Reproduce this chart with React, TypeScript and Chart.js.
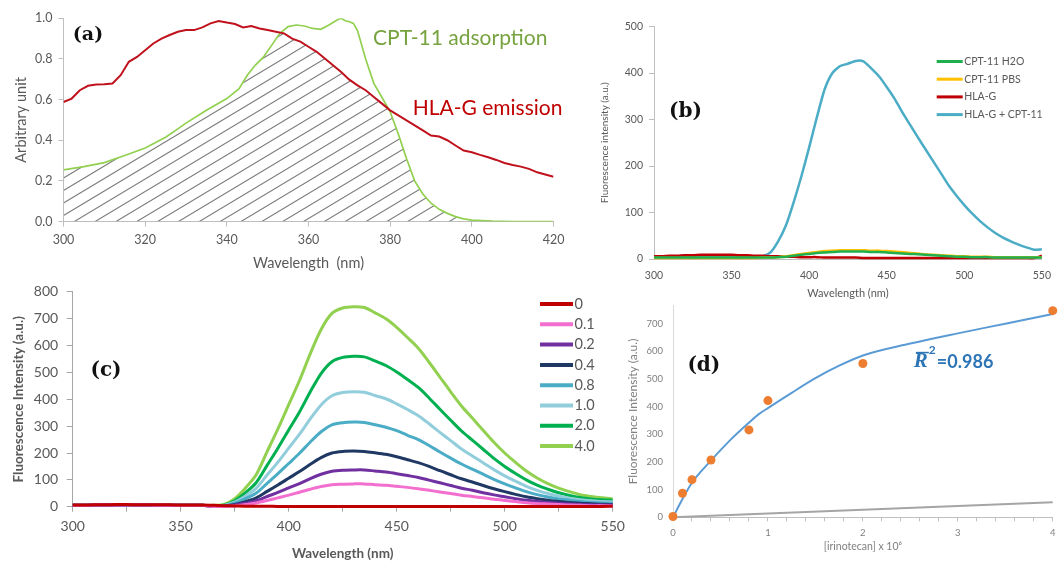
import React, { useEffect, useRef } from "react";
import { Chart, registerables } from "chart.js";
Chart.register(...registerables);

const FONT = "Lato, 'Open Sans', sans-serif";
const SERIF = "'DejaVu Serif', serif";

// ---------- Panel (a) ----------
const A_RED_WL = [300,302,304,306,308,310,312,314,316,318,320,322,324,326,328,330,332,334,336,338,340,342,344,346,348,350,352,354,356,358,360,362,364,366,368,370,372,374,376,378,380,382,384,386,388,390,392,394,396,398,400,402,404,406,408,410,412,414,416,418,420];
const A_RED = [0.588,0.605,0.646,0.668,0.674,0.676,0.679,0.72,0.786,0.81,0.843,0.876,0.9,0.918,0.934,0.942,0.942,0.955,0.975,0.987,0.979,0.972,0.955,0.962,0.95,0.942,0.934,0.926,0.9,0.885,0.86,0.835,0.802,0.769,0.736,0.698,0.67,0.646,0.613,0.58,0.547,0.522,0.498,0.473,0.448,0.423,0.418,0.4,0.374,0.349,0.341,0.328,0.316,0.303,0.288,0.278,0.27,0.259,0.242,0.231,0.22];
const A_GREEN_WL = [300,305,310,315,320,325,328,330,335,340,343,345,347,349,351,353,355,357,359,361,363,365,367,368,369,370,371,372,374,376,378,380,382,384,386,388,390,392,394,396,398,400,405,410,420];
const A_GREEN = [0.254,0.27,0.29,0.325,0.362,0.415,0.456,0.484,0.547,0.605,0.654,0.72,0.77,0.81,0.868,0.926,0.959,0.967,0.962,0.95,0.946,0.967,0.992,1.0,0.988,0.983,0.975,0.94,0.8,0.68,0.61,0.54,0.43,0.31,0.2,0.135,0.09,0.06,0.04,0.024,0.013,0.007,0.002,0,0];
const A_X_TICKS = { min: 300, max: 420, step: 20 };
const A_Y_TICKS = { min: 0, max: 1, step: 0.2 };

// ---------- Panels (b) and (c): shared wavelength axis ----------
const WL = [300,305,310,315,320,325,330,335,340,345,350,355,360,365,370,375,380,385,390,395,400,405,410,415,420,425,430,435,440,445,450,455,460,465,470,475,480,485,490,495,500,505,510,515,520,525,530,535,540,545,550];

// (b)
const B_LABELS = ["CPT-11 H2O", "CPT-11 PBS", "HLA-G", "HLA-G + CPT-11"];
const B_H2O = [3,3,3,3,3,3,3,3,3,3,3,3,3,3,3,3,4,5,7,9,11,13,14,15,16,16,16,16,15,15,14,13,12,11,10,9,8,7,6,5,5,4,4,4,3,3,3,3,3,3,3];
const B_PBS = [2,2,2,2,2,2,2,2,2,2,2,2,2,2,3,3,4,6,8,11,13,15,17,18,19,19,19,19,18,18,17,16,15,13,12,10,9,8,7,6,6,5,5,5,4,4,4,4,4,4,4];
const B_HLAG = [6,6,7,7,8,8,9,9,9,9,9,8,8,7,7,6,6,5,5,4,4,4,3,3,3,3,3,2,2,2,2,2,2,2,2,2,2,2,2,2,2,2,2,2,2,2,2,2,2,2,7];
const B_MIX = [5,5,6,6,7,7,7,7,7,7,7,6,6,6,6,14,38,72,122,178,240,305,365,400,415,420,426,425,410,393,370,345,316,289,262,236,210,184,158,136,116,98,82,68,56,46,38,31,25,20,21];

// (c)
const C_LABELS = ["0", "0.1", "0.2", "0.4", "0.8", "1.0", "2.0", "4.0"];
const C_BASE = [5,5,6,6,6,6,6,6,5,5,5,5,5];
const C_0 = [6,6,7,7,8,8,7,7,7,7,6,6,6,5,4,3,2,2,2,1,1,1,1,1,1,1,1,1,1,1,1,1,1,1,1,1,1,1,1,1,1,1,1,1,1,1,1,1,1,1,2];
const C_01 = [1,1,3,8,14,23,33,43,54,65,75,82,84,85,85,82,80,76,72,67,61,55,49,43,38,33,28,23,19,15,12,10,8,6,5,4,4,3];
const C_02 = [1,2,6,13,22,38,53,70,86,105,121,132,136,137,137,133,129,123,116,109,99,89,79,69,61,52,44,37,30,24,20,16,13,10,8,7,6,6];
const C_04 = [2,2,8,19,33,57,81,106,131,158,183,200,206,207,206,201,195,186,175,164,150,134,119,104,92,79,67,56,46,37,30,24,19,16,13,11,9,8];
const C_08 = [2,3,13,30,51,87,123,161,199,241,279,305,313,315,314,305,296,283,266,250,228,204,181,159,140,121,102,85,70,56,45,36,29,24,19,16,14,13];
const C_10 = [3,5,17,40,69,118,166,218,270,327,379,413,425,428,426,414,402,383,362,339,309,277,246,215,189,164,138,115,95,76,61,49,40,32,26,22,19,18];
const C_20 = [4,6,22,52,90,154,218,286,353,428,496,540,556,560,558,543,526,502,474,444,405,363,322,282,248,214,180,150,124,100,80,65,52,42,34,29,26,24];
const C_40 = [5,8,30,70,120,205,290,380,470,570,660,720,740,745,742,722,700,668,630,590,538,483,428,375,330,285,240,200,165,133,107,86,69,56,45,38,33,30];

// (d)
const D_CONC = [0, 0.1, 0.2, 0.4, 0.8, 1, 2, 4];
const D_INT = [3, 87, 136, 207, 316, 422, 556, 747];
const D_FIT_X = [0, 0.1, 0.2, 0.4, 0.6, 0.8, 0.9, 1, 1.25, 1.5, 1.75, 2, 2.5, 3, 3.5, 4];
const D_FIT_Y = [0, 66, 125, 205, 278, 342, 372, 395, 450, 503, 548, 585, 628, 665, 700, 735];
const D_BASE_X = [0, 4];
const D_BASE_Y = [0, 54];

// ---------- plugins ----------
function makeLegend(o: any) {
  return {
    id: "lineLegend",
    afterDraw(chart: any) {
      const ctx = chart.ctx;
      ctx.save();
      chart.data.datasets.forEach((ds: any, i: number) => {
        const y = o.y + i * o.dy;
        ctx.strokeStyle = ds.borderColor;
        ctx.lineWidth = o.lw;
        ctx.lineCap = "butt";
        ctx.beginPath();
        ctx.moveTo(o.x, y);
        ctx.lineTo(o.x + o.sw, y);
        ctx.stroke();
        ctx.fillStyle = o.color;
        ctx.font = o.font;
        ctx.textAlign = "left";
        ctx.textBaseline = "middle";
        ctx.fillText(ds.label, o.x + o.sw + o.gap, y);
      });
      ctx.restore();
    },
  };
}

function makeNotes(items: any[]) {
  return {
    id: "notes",
    afterDraw(chart: any) {
      const ctx = chart.ctx;
      const xs = chart.scales.x, ys = chart.scales.y;
      items.forEach((it) => {
        const px = xs.getPixelForValue(it.x);
        const py = ys.getPixelForValue(it.y);
        ctx.save();
        ctx.fillStyle = it.color;
        ctx.textBaseline = "middle";
        if (it.kind === "rbar") {
          ctx.font = `italic bold 21px 'Liberation Serif', serif`;
          ctx.textAlign = "left";
          ctx.fillText("R", px, py);
          const w = ctx.measureText("R").width;
          ctx.strokeStyle = it.color;
          ctx.lineWidth = 1.5;
          ctx.beginPath();
          ctx.moveTo(px + 2, py - 9);
          ctx.lineTo(px + w + 1, py - 9);
          ctx.stroke();
          ctx.font = `bold 12px ${FONT}`;
          ctx.fillText("2", px + w + 1, py - 11);
          ctx.font = `bold 18px ${FONT}`;
          ctx.fillText(it.text, px + w + 9, py + 1);
        } else {
          ctx.font = it.font;
          ctx.textAlign = it.align || "left";
          ctx.fillText(it.text, px, py);
        }
        ctx.restore();
      });
    },
  };
}

function makeHatch(o: any) {
  return {
    id: "hatch",
    beforeDatasetsDraw(chart: any) {
      const { ctx, chartArea: ca } = chart;
      const bottom = chart.scales.y.getPixelForValue(0);
      ctx.save();
      ctx.beginPath();
      ctx.rect(ca.left, ca.top, ca.right - ca.left, bottom - ca.top);
      ctx.clip();
      o.datasets.forEach((idx: number) => {
        const pts = chart.getDatasetMeta(idx).data;
        ctx.beginPath();
        ctx.moveTo(pts[0].x, bottom);
        pts.forEach((p: any) => ctx.lineTo(p.x, p.y));
        ctx.lineTo(pts[pts.length - 1].x, bottom);
        ctx.closePath();
        ctx.clip();
      });
      ctx.strokeStyle = o.color;
      ctx.lineWidth = o.width;
      const W = ca.right - ca.left;
      ctx.beginPath();
      for (let b = bottom + W * o.slope + o.phase; b > ca.top - o.spacing; b -= o.spacing) {
        ctx.moveTo(ca.left, b);
        ctx.lineTo(ca.right, b - W * o.slope);
      }
      ctx.stroke();
      ctx.restore();
    },
  };
}

const baseOpts = {
  animation: false,
  responsive: false,
  devicePixelRatio: 1,
  events: [],
};

// ---------- chart configs ----------
const BOX_A = { left: 0, top: 0, width: 580, height: 280 };
function makeA() {
  const tickFont = { family: FONT, size: 12.5 };
  return {
    type: "line",
    data: {
      datasets: [
        { label: "HLA-G emission", data: A_RED_WL.map((x, i) => ({ x, y: A_RED[i] })), borderColor: "#c0121c", borderWidth: 2, pointRadius: 0, tension: 0 },
        { label: "CPT-11 adsorption", data: A_GREEN_WL.map((x, i) => ({ x, y: A_GREEN[i] })), borderColor: "#92d050", borderWidth: 1.7, pointRadius: 0, tension: 0 },
      ],
    },
    options: {
      ...baseOpts,
      layout: { padding: { left: 0, top: 18.3, right: BOX_A.width - 553.5, bottom: 0 } },
      plugins: { legend: { display: false }, tooltip: { enabled: false } },
      scales: {
        x: {
          type: "linear", min: A_X_TICKS.min, max: A_X_TICKS.max,
          ticks: { stepSize: A_X_TICKS.step, color: "#595959", font: tickFont, padding: 6, maxRotation: 0 },
          grid: { display: true, drawOnChartArea: false, drawTicks: true, tickLength: 5, tickColor: "#bfbfbf" },
          border: { color: "#bfbfbf" },
          title: { display: true, text: "Wavelength  (nm)", color: "#595959", font: { family: FONT, size: 14.5 }, padding: { top: 0, bottom: 8 } },
          afterFit: (s: any) => { s.height = BOX_A.height - 221.5; },
        },
        y: {
          min: A_Y_TICKS.min, max: A_Y_TICKS.max,
          ticks: { stepSize: A_Y_TICKS.step, color: "#595959", font: tickFont, padding: 6, callback: (v: any) => Number(v).toFixed(1) },
          grid: { display: true, drawOnChartArea: false, drawTicks: true, tickLength: 5, tickColor: "#bfbfbf" },
          border: { color: "#bfbfbf" },
          title: { display: true, text: "Arbitrary unit", color: "#595959", font: { family: FONT, size: 14.5 }, padding: { top: 12.5, bottom: 0 } },
          afterFit: (s: any) => { s.width = 63.5; },
        },
      },
    },
    plugins: [
      makeHatch({ datasets: [0, 1], color: "#7a7a7a", width: 1.1, slope: 0.6, spacing: 12.5, phase: 0 }),
      makeNotes([
        { text: "(a)", x: 306, y: 0.918, font: `bold 19px ${SERIF}`, color: "#111", align: "center" },
        { text: "CPT-11 adsorption", x: 375.8, y: 0.9, font: `21px ${FONT}`, color: "#77a33f", align: "left" },
        { text: "HLA-G emission", x: 385.5, y: 0.555, font: `21px ${FONT}`, color: "#c00000", align: "left" },
      ]),
    ],
  };
}

const BOX_B = { left: 560, top: 0, width: 501, height: 305 };
function makeB() {
  const tickFont = { family: FONT, size: 10.5 };
  const series = [B_H2O, B_PBS, B_HLAG, B_MIX];
  const colors = ["#1faf4f", "#ffc000", "#c00000", "#4bacc6"];
  return {
    type: "line",
    data: {
      datasets: series.map((s, k) => ({
        label: B_LABELS[k], data: WL.map((x, i) => ({ x, y: s[i] })), borderColor: colors[k], borderWidth: 2.5, pointRadius: 0, tension: 0.2, clip: 4,
      })),
    },
    options: {
      ...baseOpts,
      layout: { padding: { left: 0, top: 26.5, right: BOX_B.width - 488, bottom: 0 } },
      plugins: { legend: { display: false }, tooltip: { enabled: false } },
      scales: {
        x: {
          type: "linear", min: 300, max: 550,
          ticks: { stepSize: 50, color: "#595959", font: tickFont, padding: 10, maxRotation: 0 },
          grid: { display: true, drawOnChartArea: false, drawTicks: false },
          border: { color: "#bfbfbf" },
          title: { display: true, text: "Wavelength (nm)", color: "#595959", font: { family: FONT, size: 11 }, padding: { top: 0, bottom: 4.5 } },
          afterFit: (s: any) => { s.height = BOX_B.height - 259; },
        },
        y: {
          min: 0, max: 500,
          ticks: { stepSize: 100, color: "#595959", font: tickFont, padding: 6 },
          grid: { display: true, drawOnChartArea: false, drawTicks: true, tickLength: 5, tickColor: "#bfbfbf" },
          border: { color: "#bfbfbf" },
          title: { display: true, text: "Fluorescence intensity (a.u.)", color: "#595959", font: { family: FONT, size: 10 }, padding: { top: 39, bottom: 0 } },
          afterFit: (s: any) => { s.width = 94; },
        },
      },
    },
    plugins: [
      makeLegend({ x: 376.7, y: 61.5, dy: 17.7, sw: 26, gap: 1.5, lw: 3, font: `10.5px ${FONT}`, color: "#595959" }),
      makeNotes([{ text: "(b)", x: 320.3, y: 316, font: `bold 20px ${SERIF}`, color: "#111", align: "center" }]),
    ],
  };
}

const BOX_C = { left: 0, top: 275, width: 640, height: 287 };
function makeC() {
  const tickFont = { family: FONT, size: 14 };
  const series = [C_0, [...C_BASE, ...C_01], [...C_BASE, ...C_02], [...C_BASE, ...C_04], [...C_BASE, ...C_08], [...C_BASE, ...C_10], [...C_BASE, ...C_20], [...C_BASE, ...C_40]];
  const colors = ["#c00000", "#f26fd0", "#7030a0", "#1f3864", "#4bacc6", "#92cddc", "#00b050", "#92d050"];
  return {
    type: "line",
    data: {
      datasets: series.map((s, k) => ({
        label: C_LABELS[k], data: WL.map((x, i) => ({ x, y: s[i] })), borderColor: colors[k], borderWidth: 3, pointRadius: 0, tension: 0.3, clip: 4,
      })),
    },
    options: {
      ...baseOpts,
      layout: { padding: { left: 0, top: 10.3, right: BOX_C.width - 612.7, bottom: 0 } },
      plugins: { legend: { display: false }, tooltip: { enabled: false } },
      scales: {
        x: {
          type: "linear", min: 300, max: 550,
          ticks: { stepSize: 25, autoSkip: false, color: "#595959", font: tickFont, padding: 6.5, maxRotation: 0, callback: (v: any) => (Number(v) % 50 === 0 ? String(v) : "") },
          grid: { display: true, drawOnChartArea: false, drawTicks: true, tickLength: 5, tickColor: "#a6a6a6" },
          border: { color: "#a6a6a6" },
          title: { display: true, text: "Wavelength (nm)", color: "#595959", font: { family: FONT, size: 13.5, weight: "bold" }, padding: { top: 0, bottom: 0.5 } },
          afterFit: (s: any) => { s.height = BOX_C.height - 231.7; },
        },
        y: {
          min: 0, max: 800,
          ticks: { stepSize: 100, color: "#595959", font: tickFont, padding: 8.5 },
          grid: { display: true, drawOnChartArea: false, drawTicks: true, tickLength: 6, tickColor: "#a6a6a6" },
          border: { color: "#a6a6a6" },
          title: { display: true, text: "Fluorescence Intensity (a.u.)", color: "#595959", font: { family: FONT, size: 13.5, weight: "bold" }, padding: { top: 11, bottom: 0 } },
          afterFit: (s: any) => { s.width = 72.7; },
        },
      },
    },
    plugins: [
      makeLegend({ x: 540, y: 29, dy: 20.3, sw: 33, gap: 1.5, lw: 4, font: `14.5px ${FONT}`, color: "#595959" }),
      makeNotes([{ text: "(c)", x: 315.4, y: 505, font: `bold 20px ${SERIF}`, color: "#111", align: "center" }]),
    ],
  };
}

const BOX_D = { left: 600, top: 290, width: 461, height: 272 };
function makeD() {
  const tickFont = { family: FONT, size: 9.5 };
  return {
    type: "line",
    data: {
      datasets: [
        { label: "data", data: D_CONC.map((x, i) => ({ x, y: D_INT[i] })), showLine: false, pointRadius: 4.5, pointBackgroundColor: "#ed7d31", pointBorderWidth: 0, borderColor: "#ed7d31", clip: false },
        { label: "fit", data: D_FIT_X.map((x, i) => ({ x, y: D_FIT_Y[i] })), borderColor: "#5b9bd5", borderWidth: 2, pointRadius: 0, tension: 0.4, cubicInterpolationMode: "monotone", clip: 4 },
        { label: "blank", data: D_BASE_X.map((x, i) => ({ x, y: D_BASE_Y[i] })), borderColor: "#a5a5a5", borderWidth: 2, pointRadius: 0, tension: 0, clip: 4 },
      ],
    },
    options: {
      ...baseOpts,
      layout: { padding: { left: 0, top: 10.7, right: BOX_D.width - 454.5, bottom: 0 } },
      plugins: { legend: { display: false }, tooltip: { enabled: false } },
      scales: {
        x: {
          type: "linear", min: 0, max: 4,
          ticks: { stepSize: 0.2, autoSkip: false, color: "#808080", font: tickFont, padding: 5.5, maxRotation: 0,
            callback: (v: any) => (Math.abs(Number(v) - Math.round(Number(v))) < 1e-6 ? String(Math.round(Number(v))) : "") },
          grid: { display: true, drawOnChartArea: false, drawTicks: true, tickLength: 4, tickColor: "#bfbfbf" },
          border: { color: "#bfbfbf" },
          title: { display: true, text: "[irinotecan] x 10⁶", color: "#808080", font: { family: FONT, size: 10.5 }, padding: { top: 0, bottom: 9 } },
          afterFit: (s: any) => { s.height = BOX_D.height - 227.3; },
        },
        y: {
          min: 0, max: 765,
          ticks: { stepSize: 100, includeBounds: false, color: "#808080", font: tickFont, padding: 10 },
          grid: { display: true, drawOnChartArea: false, drawTicks: false },
          border: { color: "#d9d9d9" },
          title: { display: true, text: "Fluorescence Intensity (a.u.)", color: "#808080", font: { family: FONT, size: 12 }, padding: { top: 26, bottom: 0 } },
          afterFit: (s: any) => { s.width = 73; },
        },
      },
    },
    plugins: [
      makeNotes([
        { text: "(d)", x: 0.325, y: 549, font: `bold 20px ${SERIF}`, color: "#111", align: "center" },
        { kind: "rbar", text: "=0.986", x: 2.537, y: 563, color: "#2e75b6" },
      ]),
    ],
  };
}

function ChartBox({ box, make }: { box: { left: number; top: number; width: number; height: number }; make: () => any }) {
  const ref = useRef<HTMLCanvasElement>(null);
  useEffect(() => {
    const chart = new Chart(ref.current as HTMLCanvasElement, make());
    return () => chart.destroy();
  }, []);
  return (
    <div style={{ position: "absolute", left: box.left, top: box.top, width: box.width, height: box.height }}>
      <canvas ref={ref} width={box.width} height={box.height} style={{ display: "block", width: box.width, height: box.height }} />
    </div>
  );
}

export default function App() {
  return (
    <div style={{ position: "absolute", left: 0, top: 0, width: 1061, height: 562, background: "#fff", overflow: "hidden" }}>
      <ChartBox box={BOX_A} make={makeA} />
      <ChartBox box={BOX_B} make={makeB} />
      <ChartBox box={BOX_C} make={makeC} />
      <ChartBox box={BOX_D} make={makeD} />
    </div>
  );
}
